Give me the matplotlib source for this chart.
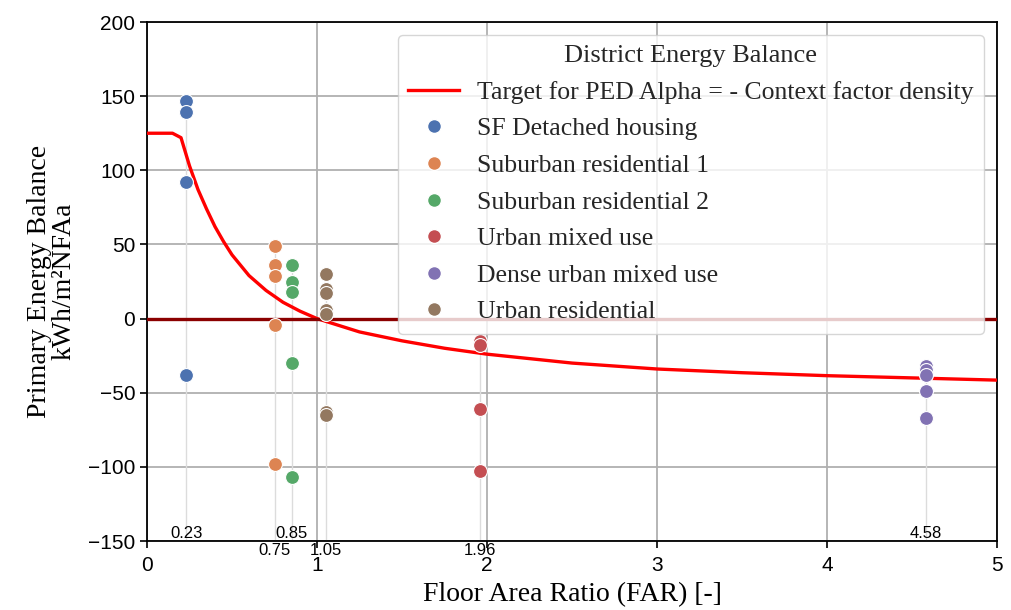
import matplotlib
matplotlib.use("Agg")
import matplotlib.pyplot as plt
from matplotlib.lines import Line2D

# district groups: FAR and primary energy balance of the sampled districts
groups = [
    "SF Detached housing",
    "Suburban residential 1",
    "Suburban residential 2",
    "Urban mixed use",
    "Dense urban mixed use",
    "Urban residential",
]
far = [0.23, 0.75, 0.85, 1.96, 4.58, 1.05]
balance = [
    [147, 139, 92, -38],
    [49, 36, 29, -4, -98],
    [36, 25, 18, -30, -107],
    [-15, -18, -61, -103],
    [-32, -35, -38, -49, -67],
    [30, 20, 17, 6, 3, -63, -65],
]
colors = ["#4C72B0", "#DD8452", "#55A868", "#C44E52", "#8172B3", "#937860"]

# PED target curve (alpha = - context factor density)
target_far = [0, 0.15, 0.2, 0.25, 0.3, 0.35, 0.4, 0.45, 0.5, 0.6, 0.7, 0.8, 0.9,
              1.0, 1.25, 1.5, 1.75, 2.0, 2.5, 3.0, 3.5, 4.0, 4.5, 5.0]
target_bal = [125, 125, 122, 103, 87, 74, 62, 52, 43, 29, 19, 11, 5,
              0, -9, -15, -20, -24, -30, -34, -36.5, -38.5, -40, -41.5]

# FAR labels: drawn above the axis or just under it
far_above = [0.23, 0.85, 4.58]
far_below = [0.75, 1.05, 1.96]

serif = ["Liberation Serif", "DejaVu Serif"]
sans = ["Liberation Sans", "DejaVu Sans"]

fig = plt.figure(figsize=(10.11, 6.10), dpi=100)
ax = fig.add_axes([0.1454, 0.1131, 0.8408, 0.8508])

ax.grid(True, color="#b0b0b0", lw=1.3, zorder=0)
ax.set_axisbelow(True)

for x, ys in zip(far, balance):
    ax.vlines(x, -150, max(ys), color="#dcdcdc", lw=1, zorder=1)

ax.plot(target_far, target_bal, color="red", lw=2.4, zorder=3)
ax.axhline(0, color="darkred", lw=2.4, zorder=4)

for x, ys, c in zip(far, balance, colors):
    ax.scatter([x] * len(ys), ys, s=100, color=c, edgecolor="white", lw=0.8, zorder=5)

for x in far_above:
    ax.text(x, -150, f"{x:.2f}", ha="center", va="bottom", fontsize=12, family=sans)
for x in far_below:
    ax.annotate(f"{x:.2f}", (x, -150), xytext=(0, -1.5), textcoords="offset points",
                ha="center", va="top", fontsize=12, family=sans, annotation_clip=False)

ax.set_xlim(0, 5)
ax.set_ylim(-150, 200)
ax.set_xticks(range(0, 6))
ax.set_yticks(range(-150, 201, 50))
ax.tick_params(labelsize=15, length=5, width=1.2, colors="black")
ax.tick_params(axis="x", pad=6)
for lab in ax.get_xticklabels() + ax.get_yticklabels():
    lab.set_family(sans)
for s in ax.spines.values():
    s.set_color("black")
    s.set_linewidth(1.3)

ax.set_xlabel("Floor Area Ratio (FAR) [-]", fontsize=20, family=serif, labelpad=5)
ax.set_ylabel("Primary Energy Balance\nkWh/m\u00b2NFAa", fontsize=20, family=serif,
              labelpad=8, linespacing=1.0)

handles = [Line2D([], [], color="red", lw=2.4)]
handles += [Line2D([], [], ls="", marker="o", ms=10, color=c, mec="white") for c in colors]
labels = ["Target for PED Alpha = - Context factor density"] + groups
leg = ax.legend(handles, labels, title="District Energy Balance", loc="upper right",
                prop={"family": serif, "size": 18.5},
                title_fontproperties={"family": serif, "size": 19},
                labelcolor="#262626", handlelength=2.0, handletextpad=0.7,
                labelspacing=0.53, borderpad=0.4)
leg.get_title().set_color("#262626")
leg.set_zorder(6)

fig.savefig("out.png", dpi=100)
